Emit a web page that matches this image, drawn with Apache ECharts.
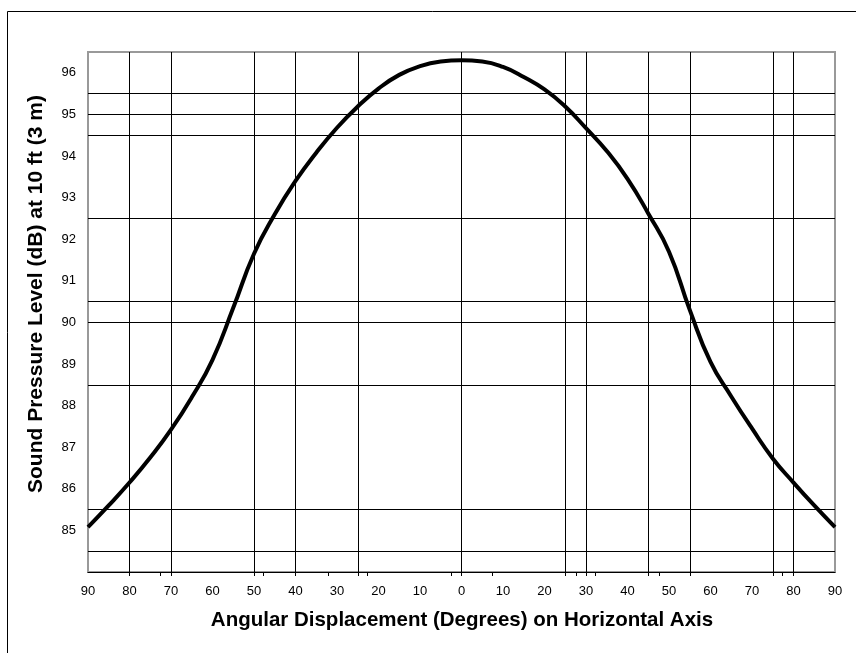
<!DOCTYPE html>
<html>
<head>
<meta charset="utf-8">
<script src="https://cdn.jsdelivr.net/npm/echarts@6/dist/echarts.min.js"></script>
<style>html,body{margin:0;padding:0;background:#fff}#c{width:856px;height:653px}</style>
</head>
<body>
<div id="c"></div>
<script>
// Curve: [angle (deg, negative = left side), SPL dB]
const angles = [-90,-85,-80,-75,-70,-65,-60,-55,-50,-45,-40,-35,-30,-25,-20,-15,-10,-5,0,5,10,15,20,25,30,35,40,45,50,55,60,65,70,75,80,85,90];
const spl    = [85.08,85.6,86.15,86.75,87.42,88.2,89.1,90.35,91.65,92.6,93.4,94.08,94.68,95.19,95.62,95.95,96.16,96.27,96.3,96.27,96.14,95.9,95.6,95.19,94.67,94.12,93.45,92.62,91.7,90.3,89.05,88.22,87.45,86.73,86.15,85.6,85.08];
// Gridlines
const vGrid = [-80,-70,-50,-40,-25,0,25,30,45,55,75,80];
const hGrid = [84.5,85.5,88.5,90,90.5,92.5,94.5,95,95.5];
// Axis ticks / labels
const xTicks = [-80,-72.5,-70,-50,-47.7,-40,-32.2,-25,-22.7,-2.4,0,7.3,25,27.6,30,32.2,45,47.6,55,75,77.4,80];
const xLabels = [-90,-80,-70,-60,-50,-40,-30,-20,-10,0,10,20,30,40,50,60,70,80,90];
const yLabels = [85,86,87,88,89,90,91,92,93,94,95,96];
const xTitle = 'Angular Displacement (Degrees) on Horizontal Axis';
const yTitle = 'Sound Pressure Level (dB) at 10 ft (3 m)';

const chart = echarts.init(document.getElementById('c'));
const font = 'Liberation Sans, Arial, sans-serif';
const markData = vGrid.map(v => ({xAxis: v})).concat(hGrid.map(v => ({yAxis: v})));
chart.setOption({
  animation: false,
  graphic: [
    {type: 'rect', silent: true, shape: {x: 7.5, y: 11.5, width: 900, height: 700},
     style: {fill: 'none', stroke: '#000', lineWidth: 1}},
    {type: 'text', silent: true, x: 462, y: 620,
     style: {text: xTitle, font: 'bold 20.5px ' + font, fill: '#000', align: 'center', verticalAlign: 'middle'}},
    {type: 'text', silent: true, x: 36, y: 294, rotation: Math.PI / 2,
     style: {text: yTitle, font: 'bold 21px ' + font, fill: '#000', align: 'center', verticalAlign: 'middle'}}
  ],
  grid: {left: 88, right: 21, top: 52, bottom: 81, show: true, borderColor: '#999', borderWidth: 2, backgroundColor: 'transparent'},
  xAxis: {
    type: 'value', min: -90, max: 90,
    axisLine: {show: true, onZero: false, lineStyle: {color: '#000', width: 1}},
    axisTick: {show: true, customValues: xTicks, length: 4, lineStyle: {color: '#000'}},
    axisLabel: {customValues: xLabels, formatter: v => String(Math.abs(v)), margin: 13, fontFamily: font, fontSize: 13, color: '#000'},
    splitLine: {show: false}
  },
  yAxis: {
    type: 'value', min: 84, max: 96.5,
    axisLine: {show: false}, axisTick: {show: false},
    axisLabel: {customValues: yLabels, margin: 12, fontFamily: font, fontSize: 13, color: '#000'},
    splitLine: {show: false}
  },
  series: [{
    type: 'line', data: angles.map((a, i) => [a, spl[i]]),
    smooth: 0.5, showSymbol: false, symbol: 'none',
    lineStyle: {color: '#000', width: 4},
    z: 5,
    markLine: {
      silent: true, symbol: 'none', animation: false,
      label: {show: false},
      lineStyle: {color: '#000', width: 1, type: 'solid'},
      emphasis: {disabled: true},
      data: markData
    }
  }]
});
</script>
</body>
</html>
